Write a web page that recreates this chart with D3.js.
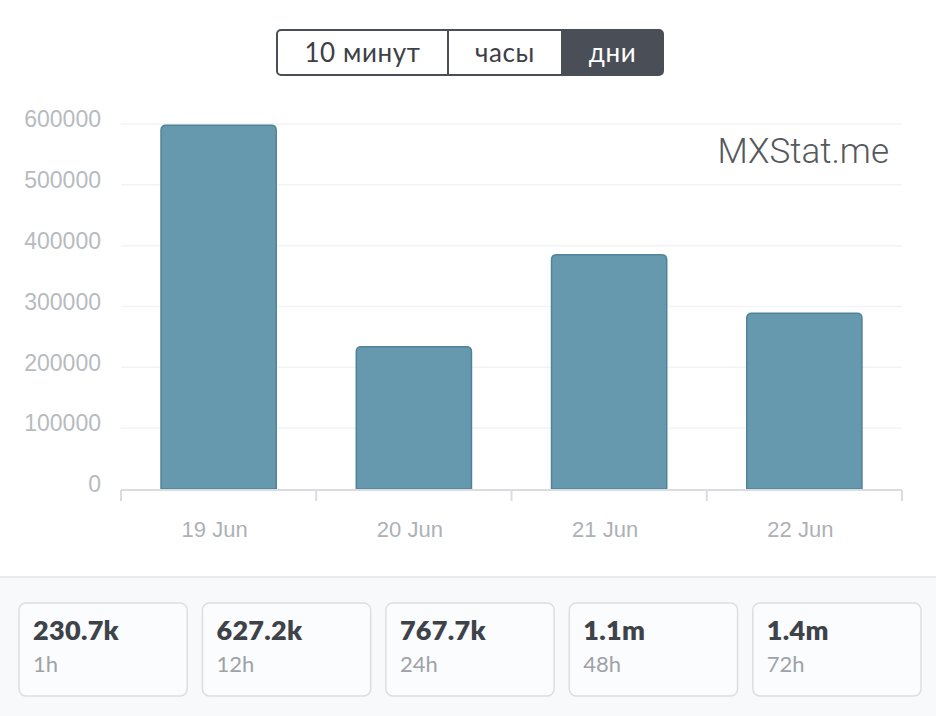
<!DOCTYPE html>
<html>
<head>
<meta charset="utf-8">
<script src="https://cdn.jsdelivr.net/npm/d3@7"></script>
<style>
  html, body { margin: 0; padding: 0; background: #fff; }
  svg { display: block; }
  .axis text { font-family: "Liberation Sans", Helvetica, Arial, sans-serif; }
</style>
</head>
<body>
<div id="chart"></div>
<script>
// chart data
const days = ["19 Jun", "20 Jun", "21 Jun", "22 Jun"];
const visits = [598000, 234000, 385000, 289000];
const yTicks = [0, 100000, 200000, 300000, 400000, 500000, 600000];
const periods = ["10 минут", "часы", "дни"];
const activePeriod = "дни";
const totals = ["230.7k", "627.2k", "767.7k", "1.1m", "1.4m"];
const totalLabels = ["1h", "12h", "24h", "48h", "72h"];

const W = 936, H = 716;
const margin = {top: 124, right: 34, bottom: 227, left: 121};
const width = W - margin.left - margin.right,
      height = H - margin.top - margin.bottom;

const svg = d3.select("#chart").append("svg")
    .attr("width", W)
    .attr("height", H);

//////////////////////////
// period switch buttons
//////////////////////////
const btnX = d3.scaleOrdinal().domain(periods).range([277, 448, 562]);
const btnW = d3.scaleOrdinal().domain(periods).range([171, 114, 101]);
const btns = svg.append("g");

btns.append("rect")
    .attr("x", 277).attr("y", 30)
    .attr("width", 386).attr("height", 45)
    .attr("rx", 4)
    .attr("fill", "#fff");

// dark fill for the active one, rounded on the right side only
const ax = btnX(activePeriod), aw = btnW(activePeriod);
btns.append("path")
    .attr("d", `M${ax},30 H${ax + aw - 4} Q${ax + aw},30 ${ax + aw},34 V71 Q${ax + aw},75 ${ax + aw - 4},75 H${ax} Z`)
    .attr("fill", "#4a4e56");

btns.selectAll("line.sep")
    .data(periods.slice(1))
    .join("line")
    .attr("class", "sep")
    .attr("x1", d => btnX(d)).attr("x2", d => btnX(d))
    .attr("y1", 30).attr("y2", 75)
    .attr("stroke", "#4a4e56")
    .attr("stroke-width", 2);

btns.append("rect")
    .attr("x", 277).attr("y", 30)
    .attr("width", 386).attr("height", 45)
    .attr("rx", 4)
    .attr("fill", "none")
    .attr("stroke", "#4a4e56")
    .attr("stroke-width", 2);

btns.selectAll("text")
    .data(periods)
    .join("text")
    .attr("x", d => btnX(d) + btnW(d) / 2)
    .attr("y", 62)
    .attr("text-anchor", "middle")
    .style("font-family", "Lato, 'Open Sans', sans-serif")
    .style("font-size", "26px")
    .style("letter-spacing", "0.6px")
    .attr("fill", d => d === activePeriod ? "#fff" : "#3d4047")
    .text(d => d);

//////////////////////////
// bar chart
//////////////////////////
const g = svg.append("g")
    .attr("transform", `translate(${margin.left},${margin.top})`);

const x = d3.scaleBand()
    .domain(days)
    .range([0, width])
    .paddingInner(0.41)
    .paddingOuter(0.205);

const y = d3.scaleLinear()
    .domain([0, 600000])
    .range([height, 0]);

// faint grid
g.selectAll("line.grid")
    .data(yTicks.slice(1))
    .join("line")
    .attr("class", "grid")
    .attr("x1", 0).attr("x2", width)
    .attr("y1", d => y(d)).attr("y2", d => y(d))
    .attr("stroke", "#f2f3f5")
    .attr("stroke-width", 1.5);

// y axis, labels only
const yAxis = g.append("g")
    .attr("class", "axis")
    .call(d3.axisLeft(y).tickValues(yTicks).tickSize(0).tickPadding(20).tickFormat(d3.format("d")));
yAxis.select(".domain").remove();
yAxis.selectAll("text")
    .attr("dy", "0.12em")
    .attr("fill", "#b7bbc0")
    .style("font-size", "23px");

// watermark
g.append("text")
    .attr("x", 768).attr("y", 39)
    .attr("text-anchor", "end")
    .style("font-family", "Roboto, 'Liberation Sans', sans-serif")
    .style("font-size", "35px")
    .style("font-weight", 300)
    .attr("fill", "#55585c")
    .text("MXStat.me");

// bars with rounded tops
const r = 5;
function barPath(d, i) {
    const x0 = x(days[i]), x1 = x0 + x.bandwidth();
    const top = y(d), bot = y(0);
    return `M${x0},${bot} V${top + r} Q${x0},${top} ${x0 + r},${top} H${x1 - r} Q${x1},${top} ${x1},${top + r} V${bot} Z`;
}
g.selectAll("path.bar")
    .data(visits)
    .join("path")
    .attr("class", "bar")
    .attr("d", barPath)
    .attr("fill", "#6699ae")
    .attr("stroke", "#4f8399")
    .attr("stroke-width", 1.5);

// x axis with ticks at band boundaries
const bounds = days.map(d => x(d) - x.step() * x.paddingInner() / 2).concat([width]);
bounds[0] = 0;
const xg = g.append("g")
    .attr("class", "axis")
    .attr("transform", `translate(0,${height + 1})`);
xg.append("line")
    .attr("x1", 0).attr("x2", width)
    .attr("stroke", "#dadcdf").attr("stroke-width", 2);
xg.selectAll("line.tick")
    .data(bounds)
    .join("line")
    .attr("class", "tick")
    .attr("x1", d => d).attr("x2", d => d)
    .attr("y1", 0).attr("y2", 11)
    .attr("stroke", "#dadcdf").attr("stroke-width", 2);
xg.selectAll("text")
    .data(days)
    .join("text")
    .attr("x", d => x(d) + x.bandwidth() / 2 - 4)
    .attr("y", 47)
    .attr("text-anchor", "middle")
    .attr("fill", "#adb1b6")
    .style("font-size", "22px")
    .text(d => d);

//////////////////////////
// totals panel
//////////////////////////
svg.append("rect")
    .attr("x", 0).attr("y", 577)
    .attr("width", W).attr("height", H - 577)
    .attr("fill", "#f8f9fb");
svg.append("line")
    .attr("x1", 0).attr("x2", W)
    .attr("y1", 577).attr("y2", 577)
    .attr("stroke", "#e9ebee").attr("stroke-width", 2);

const cx = d3.scaleBand()
    .domain(totalLabels)
    .range([19, 921])
    .paddingInner(0.083);

const cards = svg.selectAll("g.card")
    .data(totalLabels)
    .join("g")
    .attr("class", "card")
    .attr("transform", d => `translate(${cx(d)},603)`);

cards.append("rect")
    .attr("width", cx.bandwidth())
    .attr("height", 93)
    .attr("rx", 7)
    .attr("fill", "#fbfcfd")
    .attr("stroke", "#dcdee1")
    .attr("stroke-width", 1.5);

cards.append("text")
    .attr("x", 14).attr("y", 37)
    .style("font-family", "Lato, 'Open Sans', sans-serif")
    .style("font-size", "27px")
    .style("font-weight", 800)
    .style("letter-spacing", "0.3px")
    .attr("fill", "#3e4249")
    .text((d, i) => totals[i]);

cards.append("text")
    .attr("x", 14).attr("y", 69)
    .style("font-family", "Lato, 'Open Sans', sans-serif")
    .style("font-size", "22px")
    .attr("fill", "#9ea2a7")
    .text(d => d);
</script>
</body>
</html>
